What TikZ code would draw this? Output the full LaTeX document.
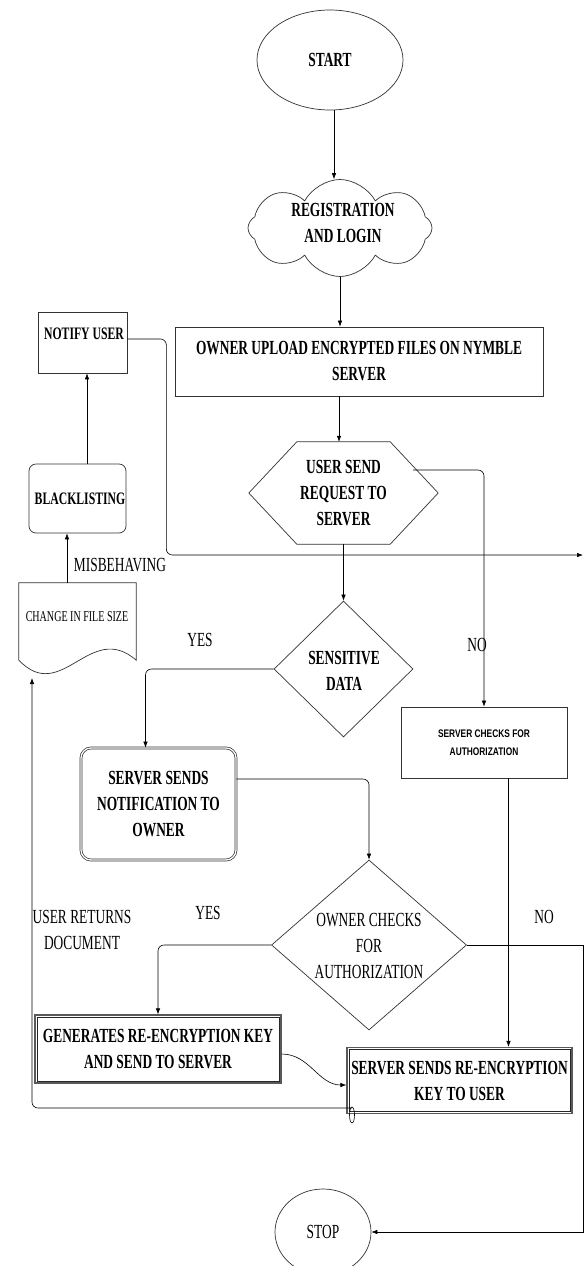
\documentclass[tikz,border=0pt]{standalone}
\usepackage{fontspec}
\setmainfont{Liberation Serif}[FakeStretch=0.67]
\newfontfamily\sansbfam{Liberation Sans}[FakeStretch=0.76]
\usetikzlibrary{shapes.geometric,shapes.symbols,arrows.meta,calc}
\tikzset{
  shp/.style={draw=black!80, line width=0.7pt},
  box/.style={shp, rectangle, inner sep=0pt, align=center},
  bt/.style={font=\fontsize{20}{26}\selectfont\bfseries, align=center},
  mb/.style={font=\fontsize{17.5}{21}\selectfont\bfseries, inner sep=0pt},
  lbl/.style={font=\fontsize{20}{26}\selectfont, inner sep=0pt, align=center},
  arr/.style={draw=black, line width=0.6pt, -{Latex[length=6pt,width=4.5pt]}},
  ln/.style={draw=black, line width=0.6pt},
  dbl/.style={double, double distance=1.3pt},
  outerbox/.style={draw=black!65, line width=1.3pt, rectangle, inner sep=0pt, align=center},
  innerline/.style={draw=black!85, line width=0.7pt}
}
\begin{document}
\begin{tikzpicture}[x=1pt,y=-1pt]
\fill[white] (0,0) rectangle (585,1266);
\useasboundingbox (0,0) rectangle (585,1266);

% nodes
\node[ellipse, shp, minimum width=146pt, minimum height=100pt, inner sep=0pt, bt] (start) at (330,60) {START};
\node[cloud, shp, cloud puffs=8, cloud puff arc=125, cloud ignores aspect, minimum width=184pt, minimum height=97pt, inner sep=0pt] (reg) at (340,228) {};
\node[bt, inner sep=0pt] (regtxt) at (343,223) {REGISTRATION\\AND LOGIN};
\node[box, bt, minimum width=368pt, minimum height=69pt] (owner) at (359,361.5) {OWNER UPLOAD ENCRYPTED FILES ON NYMBLE\\SERVER};

\node[box, minimum width=89pt, minimum height=61pt] (notify) at (82.5,342.5) {};
\node[mb] (notifytxt) at (84,334) {NOTIFY USER};

\node[box, rounded corners=7pt, minimum width=97pt, minimum height=69pt] (blk) at (77.5,498.5) {};
\node[mb] (blktxt) at (80,499) {BLACKLISTING};

\node[bt, minimum width=189pt, minimum height=102pt, inner sep=0pt] (req) at (343.5,493) {USER SEND\\REQUEST TO\\SERVER};
\draw[shp] (req.west) -- ([xshift=48pt]req.north west) -- ([xshift=-48pt]req.north east) -- (req.east) -- ([xshift=-48pt]req.south east) -- ([xshift=48pt]req.south west) -- cycle;

\node[minimum width=117pt, minimum height=77pt, inner sep=0pt] (chg) at (77.5,621.5) {};
\draw[shp] (chg.south west) -- (chg.north west) -- (chg.north east) -- (chg.south east) .. controls (90,620) and (62,705) .. (chg.south west);
\node[font=\fontsize{15}{18}\selectfont, inner sep=0pt] (chgtxt) at (77,617) {CHANGE IN FILE SIZE};

\node[diamond, shp, minimum width=139pt, minimum height=136pt, inner sep=0pt] (sens) at (343.5,669) {};
\node[bt, inner sep=0pt] (senstxt) at (344,671) {SENSITIVE\\DATA};

\node[box, minimum width=166pt, minimum height=71pt, font={\fontsize{11}{18}\sansbfam\bfseries}] (chk) at (484,742.5) {SERVER CHECKS FOR\\AUTHORIZATION};

\node[box, dbl, rounded corners=10pt, bt, minimum width=155pt, minimum height=112pt] (notif) at (158.5,804) {SERVER SENDS\\NOTIFICATION TO\\OWNER};

\node[diamond, shp, minimum width=195pt, minimum height=170pt, inner sep=0pt] (own) at (369,945) {};
\node[lbl] (owntxt) at (369,946) {OWNER CHECKS\\FOR\\AUTHORIZATION};

\node[outerbox, bt, minimum width=246pt, minimum height=68pt] (gen) at (158,1049) {GENERATES RE-ENCRYPTION KEY\\AND SEND TO SERVER};
\draw[innerline] ([xshift=2.5pt,yshift=-2.5pt]gen.north west) rectangle ([xshift=-2.5pt,yshift=2.5pt]gen.south east);
\node[outerbox, bt, minimum width=225pt, minimum height=66pt] (srv) at (459.5,1080.5) {SERVER SENDS RE-ENCRYPTION\\KEY TO USER};
\draw[innerline] ([xshift=2.5pt,yshift=-2.5pt]srv.north west) rectangle ([xshift=-2.5pt,yshift=2.5pt]srv.south east);

\node[ellipse, shp, minimum width=96pt, minimum height=86pt, inner sep=0pt, lbl] (stop) at (323,1232) {STOP};

% labels
\node[lbl] (mis) at (120,565) {MISBEHAVING};
\node[lbl] (yes1) at (200,640) {YES};
\node[lbl] (no1) at (477,645) {NO};
\node[lbl] (yes2) at (208,913) {YES};
\node[lbl] (no2) at (544,917) {NO};
\node[lbl] (ret) at (82,930) {USER RETURNS\\DOCUMENT};

% coordinates
\coordinate (rA) at (583,555);
\coordinate (hr) at (413,470);
\coordinate (loop) at (352,1108);
\coordinate (chgin) at (32,678);

% connectors
\draw[arr] ([xshift=4pt]start.south) -- ([xshift=4pt]start.south |- reg.north);
\draw[arr] (reg.south) -- (reg.south |- owner.north);
\draw[arr] ([xshift=-20pt]owner.south) -- ([xshift=-20pt]owner.south |- req.north);
\draw[arr] (req.south) -- (req.south |- sens.north);
\draw[arr, rounded corners=6pt] (hr) -| (chk.north);
\draw[arr, rounded corners=6pt] ([yshift=3.5pt]notify.east) -- ++(39,0) |- (rA);
\draw[arr] ([xshift=9.5pt]blk.north) -- ([xshift=9.5pt]blk.north |- notify.south);
\draw[arr] ([xshift=-10.5pt]chg.north) -- ([xshift=-10.5pt]chg.north |- blk.south);
\draw[arr, rounded corners=6pt] (sens.west) -| ([xshift=-13pt]notif.north);
\draw[arr, rounded corners=6pt] ([yshift=25pt]notif.east) -| (own.north);
\draw[arr, rounded corners=6pt] (own.west) -| (gen.north);
\draw[arr] (own.east) -- (own.east -| rA) |- (stop.east);
\draw[arr] ([xshift=24.5pt]chk.south) -- ([xshift=24.5pt]chk.south |- srv.north);
\draw[arr] ([yshift=-5pt]gen.east) to[out=0,in=180] ([yshift=-4.5pt]srv.west);
\draw[arr, rounded corners=6pt] (loop) -| (chgin);
\draw[ln] (352,1115) ellipse [x radius=2.5, y radius=8];
\end{tikzpicture}
\end{document}
